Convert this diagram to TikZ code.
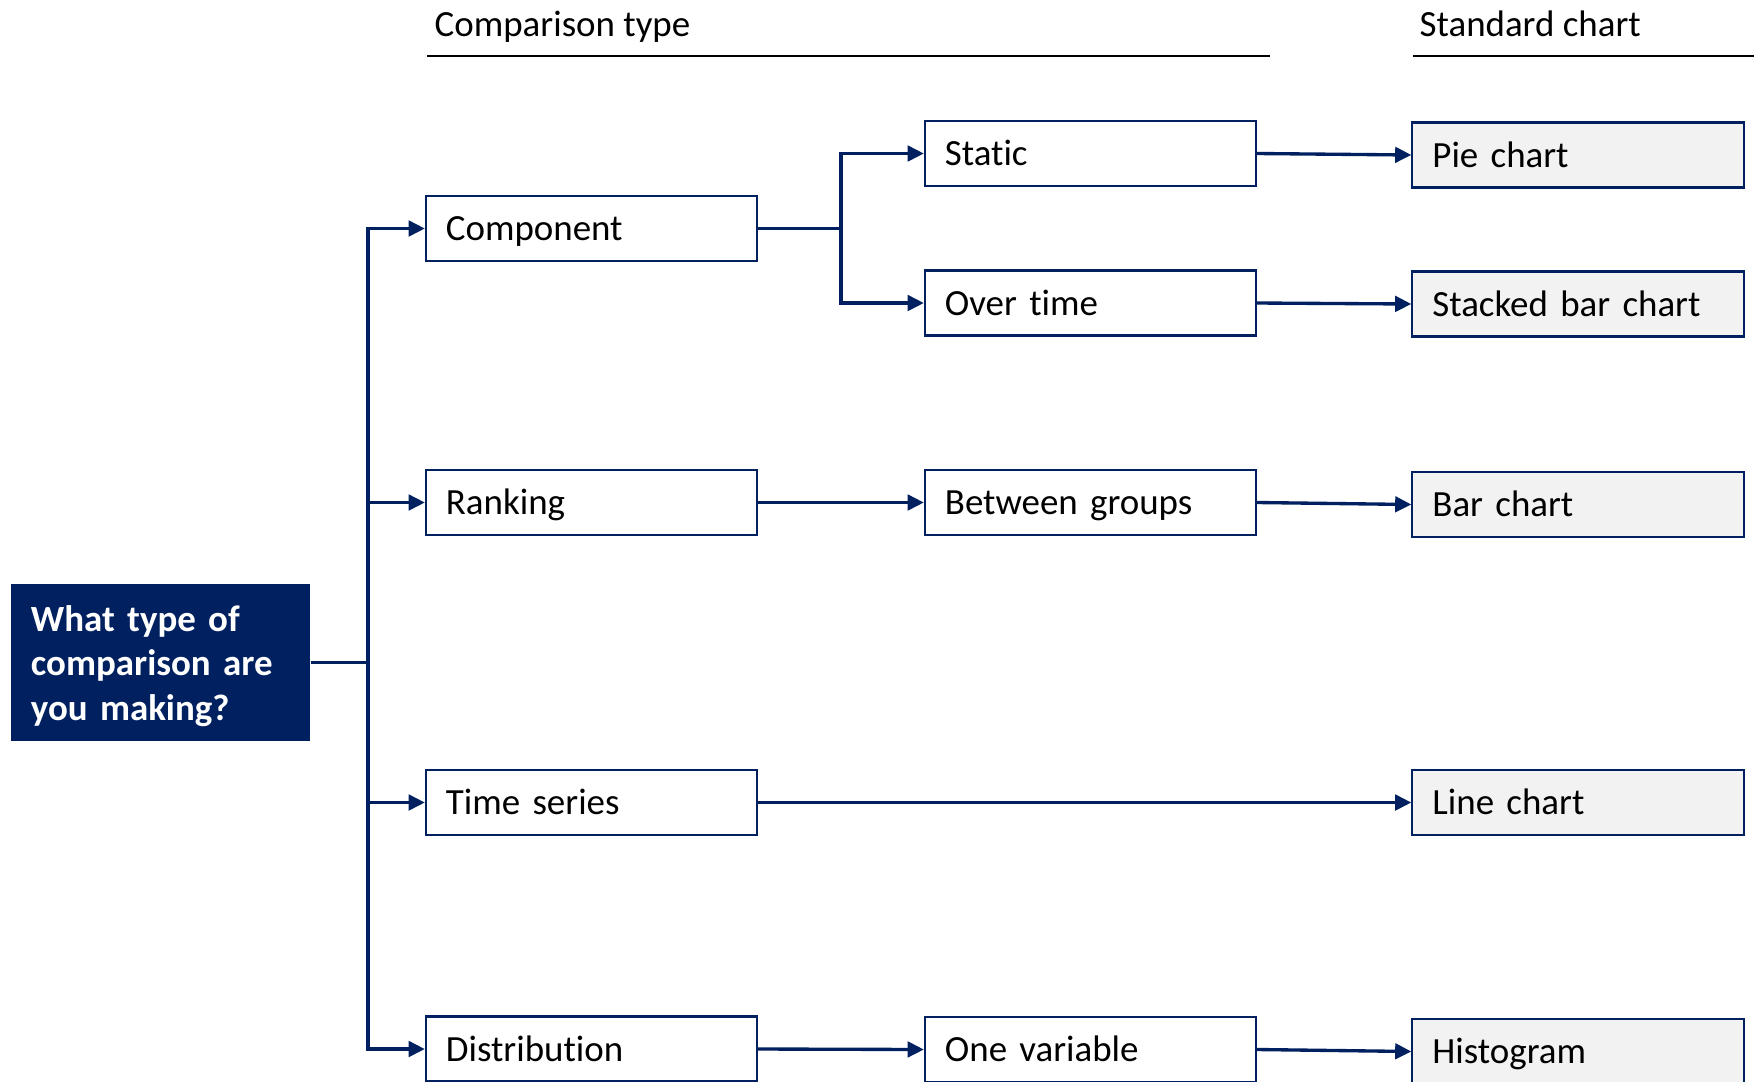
\documentclass[tikz,border=0pt]{standalone}
\usepackage{fontspec}
\setmainfont{Carlito}[Ligatures=NoCommon]
\usetikzlibrary{arrows.meta}
\definecolor{navy}{HTML}{002060}
\definecolor{boxgray}{HTML}{F2F2F2}
\begin{document}
\begin{tikzpicture}[x=0.01cm,y=-0.01cm,
  font=\fontsize{10.5}{12.8}\selectfont,
  box/.style={draw=navy, line width=0.6pt, fill=white, minimum height=0.65cm,
    text width=2.91cm, inner xsep=0.2cm, inner ysep=0pt, align=left,
    text height=0.85em, text depth=0.15em},
  graybox/.style={box, fill=boxgray},
  qbox/.style={fill=navy, minimum height=1.57cm, minimum width=2.99cm, inner sep=0pt},
  qtext/.style={text=white, font=\fontsize{10.5}{12.7}\selectfont\bfseries,
    text width=2.59cm, inner xsep=0pt, inner ysep=0pt, align=left},
  conn/.style={draw=navy, line width=0.95pt},
  arr/.style={conn, -{Triangle[length=4.6pt,width=4.4pt]}},
  rule/.style={draw=black, line width=0.6pt}
]
\useasboundingbox (0,0) rectangle (1754,1081);

% headers
\node[anchor=base west, inner sep=0pt] (h1) at (434,36) {Comparison type};
\node[anchor=base west, inner sep=0pt] (h2) at (1419,36) {Standard chart};
\coordinate (r1a) at (427,56); \coordinate (r1b) at (1270,56);
\coordinate (r2a) at (1413,56); \coordinate (r2b) at (1754,56);
\draw[rule] (r1a) -- (r1b);
\draw[rule] (r2a) -- (r2b);

% question
\node[qbox] (q) at (160.5,662.5) {};
\node[qtext] (qt) at (160.5,666) {What type of\\comparison are\\you making?};

% column 1
\node[box] (comp) at (591.5,228.5) {Component};
\node[box] (rank) at (591.5,502.5) {Ranking};
\node[box] (ts) at (591.5,802.5) {Time series};
\node[box] (dist) at (591.5,1049) {Distribution};

% column 2
\node[box] (static) at (1090.5,153.5) {Static};
\node[box] (overtime) at (1090.5,303) {Over time};
\node[box] (between) at (1090.5,502.5) {Between groups};
\node[box] (onevar) at (1090.5,1049.5) {One variable};

% column 3
\node[graybox] (pie) at (1578,155) {Pie chart};
\node[graybox] (stacked) at (1578,304) {Stacked bar chart};
\node[graybox] (bar) at (1578,504.5) {Bar chart};
\node[graybox] (line) at (1578,802.5) {Line chart};
\node[graybox] (hist) at (1578,1051.5) {Histogram};

% trunk
\coordinate (trunk) at (368,662.5);
\draw[conn] (q.east) -- (trunk);
\draw[arr] (trunk) |- (comp.west);
\draw[arr] (trunk) |- (rank.west);
\draw[arr] (trunk) |- (ts.west);
\draw[arr] (trunk) |- (dist.west);

% component branches
\coordinate (br) at (841,228.5);
\draw[conn] (comp.east) -- (br);
\draw[arr] (br) |- (static.west);
\draw[arr] (br) |- (overtime.west);

% other connectors
\draw[arr] (rank.east) -- (between.west);
\draw[arr] (dist.east) -- (onevar.west);
\draw[arr] (ts.east) -- (line.west);
\draw[arr] (static.east) -- (pie.west);
\draw[arr] (overtime.east) -- (stacked.west);
\draw[arr] (between.east) -- (bar.west);
\draw[arr] (onevar.east) -- (hist.west);
\end{tikzpicture}
\end{document}
